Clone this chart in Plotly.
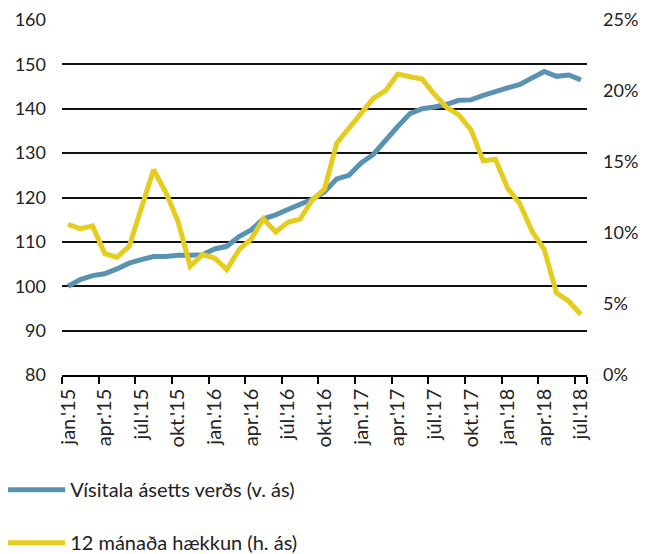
import plotly.graph_objects as go

months_is = ["jan.", "feb.", "mar.", "apr.", "maí.", "jún.", "júl.", "ágú.", "sep.", "okt.", "nóv.", "des."]
categories = []
for yr in [15, 16, 17, 18]:
    for m in months_is:
        categories.append(f"{m}'{yr}")
categories = categories[:43]  # jan.'15 .. júl.'18

index_values = [100.0, 101.5, 102.4, 102.8, 103.9, 105.2, 106.0, 106.7, 106.7, 107.0,
                107.0, 107.1, 108.4, 109.0, 111.2, 112.7, 115.2, 116.1, 117.3, 118.5,
                119.6, 121.3, 124.2, 125.0, 127.8, 129.7, 133.0, 136.0, 138.9, 140.0,
                140.4, 141.0, 141.9, 142.0, 143.0, 144.0, 144.7, 145.5, 147.0, 148.4,
                147.3, 147.6, 146.5]

yoy_pct = [10.6, 10.3, 10.5, 8.55, 8.3, 9.06, 11.76, 14.45, 12.86, 10.82,
           7.66, 8.48, 8.24, 7.42, 8.83, 9.58, 11.0, 10.07, 10.75, 10.98,
           12.34, 13.09, 16.32, 17.34, 18.43, 19.48, 20.02, 21.19, 21.0, 20.84,
           19.77, 18.85, 18.31, 17.26, 15.08, 15.2, 13.16, 12.06, 10.12, 8.83,
           5.78, 5.2, 4.26]

tick_labels = categories[::3]

left_ticks = [80, 90, 100, 110, 120, 130, 140, 150, 160]
right_ticks = [0, 5, 10, 15, 20, 25]
right_ticktext = [f"{v}%" for v in right_ticks]

BLUE = "#5A93B2"
YELLOW = "#E5CC1F"
FONT = "Lato"

fig = go.Figure()
fig.add_trace(go.Scatter(
    x=categories, y=index_values, mode="lines",
    name="Vísitala ásetts verðs (v. ás)",
    line=dict(color=BLUE, width=5), yaxis="y", legendgroup="a"))
fig.add_trace(go.Scatter(
    x=categories, y=yoy_pct, mode="lines",
    name="12 mánaða hækkun (h. ás)",
    line=dict(color=YELLOW, width=5), yaxis="y2", legendgroup="b"))

fig.update_layout(
    width=639, height=546,
    margin=dict(l=54, r=60, t=12, b=179, autoexpand=False),
    paper_bgcolor="white", plot_bgcolor="white",
    font=dict(family=FONT, size=18, color="#222222"),
    showlegend=True,
    legend=dict(
        orientation="v",
        x=-0.114, xanchor="left", y=-0.268, yanchor="top",
        font=dict(size=20, color="#222222"), itemwidth=58,
        tracegroupgap=24, traceorder="grouped",
        bgcolor="rgba(0,0,0,0)"),
    xaxis=dict(
        type="category", categoryorder="array", categoryarray=categories,
        tickmode="array", tickvals=tick_labels, ticktext=tick_labels,
        tickson="boundaries", ticks="outside", ticklen=7, tickwidth=1.5,
        tickcolor="black", tickangle=-90, automargin=False,
        ticklabelstandoff=4,
        showgrid=False, showline=True, linecolor="black", linewidth=1.5,
        range=[-0.5, 42.5], tickfont=dict(size=20)),
    yaxis=dict(
        range=[80, 160], tickmode="array", tickvals=left_ticks,
        showgrid=True, gridcolor="#111111", gridwidth=1.6, automargin=False,
        zeroline=False, showline=False, ticks="", ticklabelstandoff=15,
        tickfont=dict(size=18)),
    yaxis2=dict(
        range=[0, 25], overlaying="y", side="right", automargin=False,
        tickmode="array", tickvals=right_ticks, ticktext=right_ticktext,
        showgrid=False, zeroline=False, showline=False, ticks="",
        ticklabelstandoff=15, tickfont=dict(size=18)),
)

fig.write_html("out.html")
